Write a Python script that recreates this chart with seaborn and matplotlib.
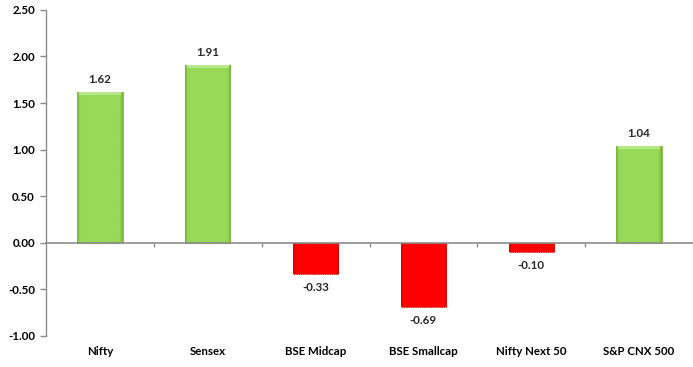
import numpy as np
import pandas as pd
import matplotlib
matplotlib.use("Agg")
import matplotlib.pyplot as plt
import matplotlib.transforms as mtransforms
import seaborn as sns

categories = ["Nifty", "Sensex", "BSE Midcap", "BSE Smallcap", "Nifty Next 50", "S&P CNX 500"]
values = [1.62, 1.91, -0.33, -0.69, -0.10, 1.04]
y_ticks = [-1.00, -0.50, 0.00, 0.50, 1.00, 1.50, 2.00, 2.50]

sns.set_theme(style="white")
plt.rcParams["font.family"] = ["Lato", "DejaVu Sans"]

FS = 8.3

df = pd.DataFrame({"index": categories, "change": values})

fig = plt.figure(figsize=(6.93, 3.67), dpi=100)
ax = fig.add_axes([0.0664, 0.0845, 0.9336, 0.8885])

green, green_edge = "#98DA58", "#7CB842"
red, red_edge = "#FF0000", "#A00000"
palette = [green if v >= 0 else red for v in values]
sns.barplot(data=df, x="index", y="change", hue="index", palette=palette,
            legend=False, width=0.42, ax=ax, saturation=1)

# bevelled shading on each bar
for patch, v in zip(ax.patches, values):
    x0, y0 = patch.get_x(), patch.get_y()
    w, h = patch.get_width(), patch.get_height()
    if v >= 0:
        base = np.array(matplotlib.colors.to_rgb(green))
        dark = np.array(matplotlib.colors.to_rgb("#7AB640"))
        patch.set_edgecolor(green_edge)
        patch.set_linewidth(0.6)
    else:
        base = np.array(matplotlib.colors.to_rgb(red))
        dark = np.array(matplotlib.colors.to_rgb("#E00000"))
        patch.set_edgecolor(red_edge)
        patch.set_linewidth(0.6)
        patch.set_linestyle(":")
    t = np.linspace(0, 1, 60)
    prof = np.clip(np.minimum(t, 1 - t) / 0.07, 0, 1)
    img = dark[None, :] * (1 - prof[:, None]) + base[None, :] * prof[:, None]
    img = img[None, :, :]
    y_lo, y_hi = (y0, y0 + h) if h >= 0 else (y0 + h, y0)
    im = ax.imshow(img, extent=[x0, x0 + w, y_lo, y_hi], aspect="auto",
                   zorder=patch.get_zorder() + 0.1, interpolation="bilinear")
    im.set_clip_path(patch)
    if v >= 0:
        # light top rim
        ax.fill_between([x0 + w * 0.04, x0 + w * 0.96], y_hi - 0.03, y_hi,
                        color="#B8E88A", zorder=patch.get_zorder() + 0.2, lw=0)

ax.set_xlim(-0.5, len(categories) - 0.5)
ax.set_ylim(-1.0, 2.5)
ax.set_yticks(y_ticks)
ax.set_yticklabels([f"{t:.2f}" for t in y_ticks], fontsize=FS, fontweight="bold")
ax.set_xlabel("")
ax.set_ylabel("")

axis_grey = "#8C8C8C"
for s in ["top", "right"]:
    ax.spines[s].set_visible(False)
ax.spines["left"].set_color(axis_grey)
ax.spines["left"].set_linewidth(1.0)
ax.spines["bottom"].set_position(("data", 0))
ax.spines["bottom"].set_color(axis_grey)
ax.spines["bottom"].set_linewidth(1.2)
ax.spines["bottom"].set_zorder(5)

ax.tick_params(axis="y", direction="out", length=4, color=axis_grey, width=1,
               left=True, pad=4, labelcolor="black")
ax.set_xticks(np.arange(0.5, len(categories) - 0.5, 1.0))
ax.set_xticklabels([])
ax.tick_params(axis="x", direction="out", length=3, color=axis_grey, width=1, bottom=True)

# category names along the bottom of the plot area
trans = mtransforms.blended_transform_factory(ax.transData, ax.transAxes)
for i, name in enumerate(categories):
    ax.text(i, -0.03, name, transform=trans, ha="center", va="top",
            fontsize=FS, fontweight="bold", color="black")

# value labels
for i, v in enumerate(values):
    if v >= 0:
        ax.annotate(f"{v:.2f}", (i, v), xytext=(0, 5), textcoords="offset points",
                    ha="center", va="bottom", fontsize=FS, fontweight="bold")
    else:
        ax.annotate(f"{v:.2f}", (i, v), xytext=(0, -6), textcoords="offset points",
                    ha="center", va="top", fontsize=FS, fontweight="bold")

fig.savefig("out.png", dpi=100, facecolor="white")
